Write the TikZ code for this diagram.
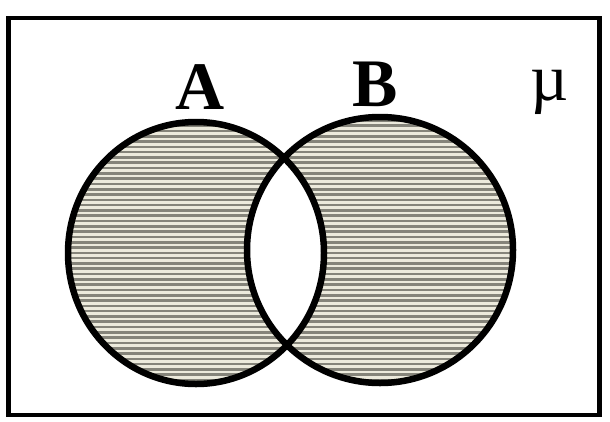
\documentclass[tikz,border=0pt]{standalone}
\usepackage{fontspec}
\setmainfont{Liberation Serif}
\begin{document}
\begin{tikzpicture}[x=1pt,y=-1pt,
  outline/.style={line width=6.5pt,black},
  frame/.style={line width=4.5pt,black},
  lbl/.style={font=\fontsize{68}{70}\selectfont\bfseries,anchor=base,inner sep=0pt},
  hatchline/.style={line width=2.6pt,color=hatchgray}]
\definecolor{shadebg}{HTML}{ECEADC}
\definecolor{hatchgray}{HTML}{85847A}
\useasboundingbox (0,0) rectangle (610,421);
\fill[white] (0,0) rectangle (610,421);
\node[draw,frame,minimum width=591pt,minimum height=397pt,inner sep=0pt] (U) at (304,216.5) {};
\coordinate (cA) at (196,253);
\coordinate (cB) at (380,250);
\fill[shadebg,even odd rule] (cA) ellipse [x radius=128pt,y radius=131pt] (cB) ellipse [x radius=133pt,y radius=133pt];
\begin{scope}[even odd rule]
\clip (cA) ellipse [x radius=128pt,y radius=131pt] (cB) ellipse [x radius=133pt,y radius=133pt];
\foreach \yy in {115,120.3,...,390} {\draw[hatchline] (60,\yy) -- (520,\yy);}
\end{scope}
\draw[outline] (cA) ellipse [x radius=128pt,y radius=131pt];
\draw[outline] (cB) ellipse [x radius=133pt,y radius=133pt];
\node[lbl] (A) at (200,109) {A};
\node[lbl] (B) at (375,106) {B};
\node[font=\fontsize{66}{68}\selectfont,anchor=base,inner sep=0pt] (mu) at (550,100) {µ};
\end{tikzpicture}
\end{document}
